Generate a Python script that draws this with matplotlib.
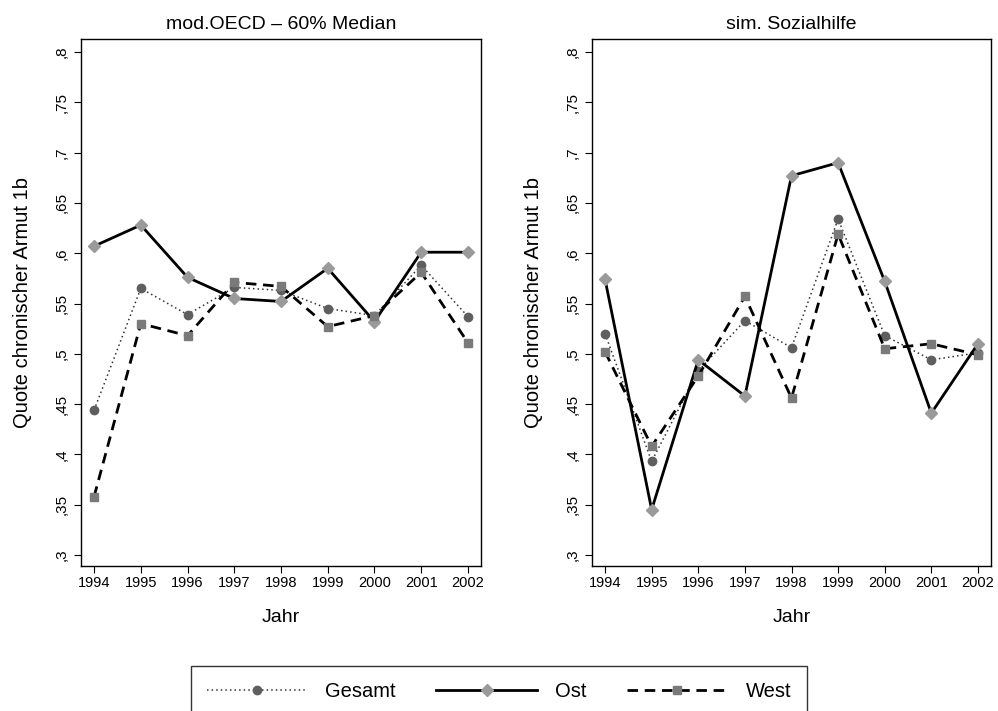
import matplotlib
matplotlib.use("Agg")
import matplotlib.pyplot as plt
from matplotlib.lines import Line2D

plt.rcParams['font.family'] = ['Liberation Sans', 'DejaVu Sans']

years = ['1994', '1995', '1996', '1997', '1998', '1999', '2000', '2001', '2002']

left_gesamt = [0.444, 0.565, 0.539, 0.566, 0.563, 0.545, 0.538, 0.588, 0.537]
left_ost = [0.607, 0.628, 0.576, 0.555, 0.552, 0.585, 0.532, 0.601, 0.601]
left_west = [0.358, 0.530, 0.518, 0.571, 0.567, 0.527, 0.538, 0.581, 0.511]

right_gesamt = [0.520, 0.393, 0.483, 0.533, 0.506, 0.634, 0.518, 0.494, 0.501]
right_ost = [0.574, 0.345, 0.494, 0.458, 0.677, 0.690, 0.572, 0.441, 0.510]
right_west = [0.502, 0.408, 0.478, 0.557, 0.456, 0.619, 0.505, 0.510, 0.499]

titles = ['mod.OECD \u2013 60% Median', 'sim. Sozialhilfe']
ytick_vals = [0.3, 0.35, 0.4, 0.45, 0.5, 0.55, 0.6, 0.65, 0.7, 0.75, 0.8]
ytick_labels = [',3', ',35', ',4', ',45', ',5', ',55', ',6', ',65', ',7', ',75', ',8']
series_names = ['Gesamt', 'Ost', 'West']

W, H = 998, 711
fig = plt.figure(figsize=(W / 100, H / 100), dpi=100)

axes_px = [(81, 39, 481, 566), (592, 39, 991, 566)]
data = [(left_gesamt, left_ost, left_west), (right_gesamt, right_ost, right_west)]

styles = [
    dict(color='#333333', linestyle=(0, (1, 2.0)), linewidth=1.1, marker='o',
         markersize=6, markerfacecolor='#5f5f5f', markeredgecolor='#5f5f5f'),
    dict(color='black', linestyle='-', linewidth=2.0, marker='D',
         markersize=6, markerfacecolor='#9a9a9a', markeredgecolor='#9a9a9a'),
    dict(color='black', linestyle=(0, (3.8, 2.4)), linewidth=2.0, marker='s',
         markersize=6, markerfacecolor='#7a7a7a', markeredgecolor='#7a7a7a'),
]

x = list(range(len(years)))
for (x0, y0, x1, y1), series, title in zip(axes_px, data, titles):
    ax = fig.add_axes([x0 / W, 1 - y1 / H, (x1 - x0) / W, (y1 - y0) / H])
    for vals, st in zip(series, styles):
        ax.plot(x, vals, **st)
    ax.set_xlim(-0.28, 8.28)
    ax.set_ylim(0.289, 0.813)
    ax.set_xticks(x)
    ax.set_xticklabels(years, fontsize=10.5)
    ax.set_yticks(ytick_vals)
    ax.set_yticklabels(ytick_labels, fontsize=11, rotation=90, va='center')
    ax.tick_params(direction='out', length=5, width=0.8, colors='black')
    ax.tick_params(axis='x', pad=2.5)
    ax.tick_params(axis='y', pad=4.0)
    for sp in ax.spines.values():
        sp.set_linewidth(1.0)
    ax.set_title(title, fontsize=14, pad=7)
    ax.set_xlabel('Jahr', fontsize=14)
    ax.xaxis.set_label_coords(0.5, -(609 - 566) / (y1 - y0))
    ax.set_ylabel('Quote chronischer Armut 1b', fontsize=14.5)
    ax.yaxis.set_label_coords((32 - 81) / (x1 - x0), 0.5)

handles = [Line2D([0], [0], **st) for st in styles]
leg = fig.legend(handles, series_names, loc='upper center',
                 bbox_to_anchor=(0.5, 1 - 666 / H),
                 ncol=3, fontsize=14.5, frameon=True,
                 fancybox=False, edgecolor='black', handlelength=5.0,
                 handletextpad=0.9, columnspacing=2.0, borderpad=0.8,
                 borderaxespad=0)
leg.get_frame().set_linewidth(1.0)

fig.savefig('out.png', dpi=100)
